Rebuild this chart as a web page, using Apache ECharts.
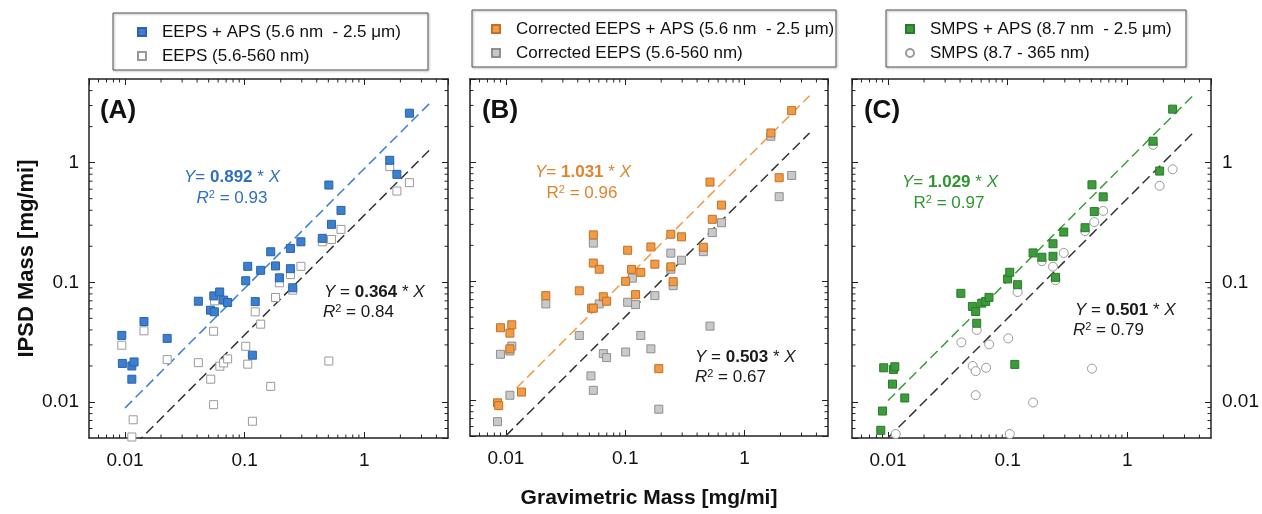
<!DOCTYPE html>
<html><head><meta charset="utf-8">
<script src="https://cdn.jsdelivr.net/npm/echarts@6/dist/echarts.min.js"></script>
<style>html,body{margin:0;padding:0;background:#fff}#c{width:1262px;height:514px}</style>
</head><body><div id="c"></div>
<script>
// ---------- DATA ----------
// Panel A
const eepsAps = [[0.0094,0.036],[0.0095,0.021],[0.0114,0.020],[0.0119,0.0216],[0.0114,0.0155],[0.0144,0.047],[0.0225,0.034],[0.041,0.0695],[0.0518,0.0585],[0.0552,0.077],[0.0558,0.0567],[0.0618,0.083],[0.0667,0.071],[0.072,0.0678],[0.102,0.103],[0.106,0.136],[0.1225,0.069],[0.116,0.0246],[0.136,0.126],[0.165,0.18],[0.181,0.137],[0.195,0.109],[0.241,0.192],[0.241,0.13],[0.252,0.09],[0.295,0.218],[0.445,0.233],[0.505,0.65],[0.531,0.305],[0.638,0.399],[1.63,1.046],[1.87,0.798],[2.38,2.59]];
const eeps = [[0.0094,0.0298],[0.0144,0.0393],[0.0117,0.0071],[0.0114,0.0051],[0.0225,0.0226],[0.041,0.0213],[0.052,0.0155],[0.055,0.0095],[0.055,0.039],[0.056,0.070],[0.062,0.0199],[0.0667,0.0212],[0.072,0.0229],[0.102,0.0292],[0.106,0.0207],[0.1225,0.0566],[0.116,0.0069],[0.136,0.0447],[0.165,0.0135],[0.181,0.0747],[0.195,0.099],[0.241,0.116],[0.252,0.086],[0.295,0.136],[0.445,0.218],[0.505,0.022],[0.531,0.228],[0.638,0.277],[1.63,0.926],[1.87,0.579],[2.38,0.68]];
// Panel B
const corrEepsAps = [[0.0085,0.0095],[0.0087,0.0090],[0.0090,0.0406],[0.0108,0.0366],[0.0112,0.043],[0.0108,0.027],[0.0135,0.0117],[0.0216,0.0756],[0.0412,0.083],[0.054,0.245],[0.054,0.142],[0.0605,0.126],[0.0523,0.0593],[0.054,0.0593],[0.0655,0.074],[0.0698,0.0678],[0.1007,0.0997],[0.1047,0.182],[0.113,0.1256],[0.122,0.077],[0.135,0.1186],[0.164,0.194],[0.177,0.139],[0.191,0.0184],[0.241,0.248],[0.241,0.132],[0.252,0.099],[0.296,0.236],[0.451,0.193],[0.513,0.68],[0.536,0.331],[0.641,0.436],[1.66,1.76],[1.95,0.74],[2.48,2.71]];
const corrEeps = [[0.0085,0.0066],[0.009,0.0243],[0.0108,0.011],[0.0108,0.0259],[0.0112,0.0285],[0.0216,0.0644],[0.0412,0.035],[0.0516,0.016],[0.054,0.0121],[0.054,0.209],[0.0605,0.0644],[0.0655,0.0246],[0.0698,0.0228],[0.1007,0.0254],[0.1047,0.0665],[0.1146,0.106],[0.122,0.0636],[0.135,0.035],[0.164,0.027],[0.177,0.0756],[0.191,0.0084],[0.241,0.172],[0.241,0.126],[0.252,0.0917],[0.296,0.150],[0.451,0.177],[0.513,0.0419],[0.536,0.256],[0.641,0.31],[1.66,1.65],[1.95,0.513],[2.48,0.773]];
// Panel C
const smpsAps = [[0.0087,0.0058],[0.0090,0.0084],[0.0092,0.0193],[0.0111,0.0187],[0.0114,0.0197],[0.0109,0.0141],[0.0138,0.0108],[0.0406,0.0809],[0.0507,0.0629],[0.054,0.057],[0.0551,0.0455],[0.0607,0.067],[0.0655,0.0692],[0.0698,0.0748],[0.0998,0.1067],[0.104,0.1213],[0.121,0.0955],[0.1146,0.0206],[0.163,0.176],[0.193,0.162],[0.239,0.21],[0.239,0.165],[0.251,0.110],[0.294,0.263],[0.443,0.286],[0.506,0.653],[0.529,0.39],[0.628,0.518],[1.64,1.51],[1.86,0.85],[2.39,2.8]];
const smps = [[0.0116,0.0054],[0.041,0.0315],[0.0551,0.040],[0.051,0.020],[0.054,0.0181],[0.054,0.0114],[0.066,0.0193],[0.070,0.0303],[0.101,0.034],[0.104,0.0054],[0.121,0.083],[0.163,0.0099],[0.193,0.15],[0.239,0.135],[0.251,0.104],[0.294,0.176],[0.443,0.268],[0.506,0.019],[0.529,0.319],[0.628,0.395],[1.64,1.41],[1.86,0.64],[2.39,0.88]];
// Fit lines (end points)
const fitA1 = [[0.01,0.00892],[3.5,3.12]];
const fitA2 = [[0.01,0.00364],[3.5,1.274]];
const fitB1 = [[0.01,0.01031],[3.5,3.61]];
const fitB2 = [[0.01,0.00503],[3.5,1.76]];
const fitC1 = [[0.01,0.01029],[3.5,3.60]];
const fitC2 = [[0.01,0.00501],[3.5,1.754]];
const slopes = ['0.892','0.364','1.031','0.503','1.029','0.501'];
const r2s = ['0.93','0.84','0.96','0.67','0.97','0.79'];
const panelTags = ['(A)','(B)','(C)'];
const seriesNames = ['EEPS + APS (5.6 nm  - 2.5 \u03bcm)','EEPS (5.6-560 nm)','Corrected EEPS + APS (5.6 nm  - 2.5 \u03bcm)','Corrected EEPS (5.6-560 nm)','SMPS + APS (8.7 nm  - 2.5 \u03bcm)','SMPS (8.7 - 365 nm)'];
const minorTicks = [0.006,0.007,0.008,0.009,0.02,0.03,0.04,0.05,0.06,0.07,0.08,0.09,0.2,0.3,0.4,0.5,0.6,0.7,0.8,0.9,2,3,4];
const axisMin = 0.005, axisMax = 5;

// ---------- STYLE ----------
const FF = 'Liberation Sans, Arial, sans-serif';
const BLUE = '#3a7fd0', ORANGE = '#f39a45', GREEN = '#3c9c3c';
const grids = [
  {left:89, top:79, width:359, height:359},
  {left:470, top:79, width:358, height:359},
  {left:852, top:79, width:360, height:359}
];
const fmt = v => String(parseFloat(Number(v).toPrecision(6)));
function axis(kind, g, pos, showLabel, extra) {
  return Object.assign({
    type:'log', logBase:10, gridIndex:g, position:pos, min:axisMin, max:axisMax,
    axisLine:{show:true, onZero:false, lineStyle:{color:'#222', width:1.5}},
    axisTick:{show:true, inside:true, length:6, lineStyle:{color:'#222', width:1}},
    splitLine:{show:false},
    axisLabel:{show:showLabel, margin: kind==='x'?13:10, fontSize:19, color:'#111', fontFamily:FF,
      showMinLabel:false, showMaxLabel:false, formatter:fmt}
  }, extra||{});
}
const xAxes = [], yAxes = [];
for (let g=0; g<3; g++) {
  xAxes.push(axis('x', g, 'bottom', true, g===1 ? {name:'Gravimetric Mass [mg/mi]', nameLocation:'middle', nameGap:52,
    nameTextStyle:{fontSize:21, fontWeight:'bold', fontFamily:FF, color:'#111'}} : {}));
  xAxes.push(axis('x', g, 'top', false));
  yAxes.push(axis('y', g, 'left', g===0, g===0 ? {name:'IPSD Mass [mg/mi]', nameLocation:'middle', nameGap:47,
    nameTextStyle:{fontSize:22, fontWeight:'bold', fontFamily:FF, color:'#111'}} : {}));
  yAxes.push(axis('y', g, 'right', g===2, {axisLabel:{show:g===2, margin:11, fontSize:19, color:'#111', fontFamily:FF, showMinLabel:false, showMaxLabel:false, formatter:fmt}}));
}

function scat(name, g, data, symbol, fill, border, size, z) {
  return {type:'scatter', name, xAxisIndex:2*g, yAxisIndex:2*g, data, symbol, symbolSize:size, z,
    itemStyle:{color:fill, borderColor:border, borderWidth:1, opacity:1}, emphasis:{disabled:true}};
}
function fit(g, data, color) {
  return {type:'line', xAxisIndex:2*g, yAxisIndex:2*g, data, showSymbol:false, symbol:'none', z:3, clip:true,
    lineStyle:{color, width:1.5, type:[10,5]}, silent:true};
}
function ticks(g) {
  return {type:'custom', xAxisIndex:2*g, yAxisIndex:2*g, silent:true, z:6, clip:false,
    data: minorTicks.map(v=>[v,v]),
    renderItem(params, api) {
      const p = api.coord([api.value(0), api.value(1)]);
      const cs = params.coordSys, L = 3.5, b = cs.y + cs.height, r = cs.x + cs.width;
      const st = {stroke:'#222', lineWidth:1};
      return {type:'group', children:[
        {type:'line', shape:{x1:p[0], y1:b, x2:p[0], y2:b-L}, style:st},
        {type:'line', shape:{x1:p[0], y1:cs.y, x2:p[0], y2:cs.y+L}, style:st},
        {type:'line', shape:{x1:cs.x, y1:p[1], x2:cs.x+L, y2:p[1]}, style:st},
        {type:'line', shape:{x1:r, y1:p[1], x2:r-L, y2:p[1]}, style:st}
      ]};
    }};
}

const series = [
  scat(seriesNames[1], 0, eeps, 'rect', '#ffffff', '#9a9a9a', 8, 4),
  scat(seriesNames[0], 0, eepsAps, 'rect', BLUE, '#2b62a8', 8, 5),
  fit(0, fitA1, BLUE), fit(0, fitA2, '#333'), ticks(0),
  scat(seriesNames[3], 1, corrEeps, 'rect', '#c9c9c9', '#8f8f8f', 8, 4),
  scat(seriesNames[2], 1, corrEepsAps, 'rect', ORANGE, '#c07028', 8, 5),
  fit(1, fitB1, ORANGE), fit(1, fitB2, '#333'), ticks(1),
  scat(seriesNames[5], 2, smps, 'circle', '#ffffff', '#9a9a9a', 9, 4),
  scat(seriesNames[4], 2, smpsAps, 'rect', GREEN, '#2a7a2a', 8, 5),
  fit(2, fitC1, GREEN), fit(2, fitC2, '#333'), ticks(2)
];

function legend(left, top, padL, names) {
  return {orient:'vertical', left, top, padding:[11,5,5,padL], itemGap:6, itemWidth:8, itemHeight:8,
    selectedMode:false, data:names,
    textStyle:{fontSize:17, fontFamily:FF, color:'#111', lineHeight:18, padding:[0,0,0,11]}};
}
const legends = [
  legend(113, 12, 24, [seriesNames[0], seriesNames[1]]),
  legend(472, 9, 19, [seriesNames[2], seriesNames[3]]),
  legend(886, 9, 19, [seriesNames[4], seriesNames[5]])
];

const rich = {
  i:{fontStyle:'italic', fontSize:17, fontFamily:FF},
  b:{fontWeight:'bold', fontSize:17, fontFamily:FF},
  n:{fontSize:17, fontFamily:FF},
  s:{fontSize:11, fontFamily:FF, verticalAlign:'top'}
};
function txt(x, y, text, color, align) {
  return {type:'text', x, y, z:50, silent:true, style:{text, rich, fill:color, fontSize:17, fontFamily:FF, align, verticalAlign:'middle'}};
}
const boxStyle = {fill:'none', stroke:'#555', lineWidth:1, shadowBlur:2, shadowOffsetX:1, shadowOffsetY:1, shadowColor:'rgba(0,0,0,0.35)'};
const graphics = [
  {type:'rect', shape:{x:113, y:13, width:315, height:57}, style:boxStyle},
  {type:'rect', shape:{x:472, y:10, width:364, height:57}, style:boxStyle},
  {type:'rect', shape:{x:886, y:10, width:300, height:57}, style:boxStyle},
  {type:'text', x:118, y:111, style:{text:panelTags[0], fontSize:26, fontWeight:'bold', fontFamily:FF, fill:'#111', align:'center', verticalAlign:'middle'}},
  {type:'text', x:500, y:111, style:{text:panelTags[1], fontSize:26, fontWeight:'bold', fontFamily:FF, fill:'#111', align:'center', verticalAlign:'middle'}},
  {type:'text', x:882, y:111, style:{text:panelTags[2], fontSize:26, fontWeight:'bold', fontFamily:FF, fill:'#111', align:'center', verticalAlign:'middle'}},
  txt(232, 177, '{i|Y}{n|= }{b|'+slopes[0]+'}{n| * }{i|X}', '#2f6fc0', 'center'),
  txt(232, 198, '{i|R}{s|2}{n| = '+r2s[0]+'}', '#2f6fc0', 'center'),
  txt(324, 292, '{i|Y}{n| = }{b|'+slopes[1]+'}{n| * }{i|X}', '#1a1a1a', 'left'),
  txt(323, 312, '{i|R}{s|2}{n| = '+r2s[1]+'}', '#1a1a1a', 'left'),
  txt(583, 172, '{i|Y}{n|= }{b|'+slopes[2]+'}{n| * }{i|X}', '#e0842e', 'center'),
  txt(582, 193, '{n|R}{s|2}{n| = '+r2s[2]+'}', '#e0842e', 'center'),
  txt(695, 357, '{i|Y}{n| = }{b|'+slopes[3]+'}{n| * }{i|X}', '#1a1a1a', 'left'),
  txt(695, 377, '{i|R}{s|2}{n| = '+r2s[3]+'}', '#1a1a1a', 'left'),
  txt(950, 182, '{i|Y}{n|= }{b|'+slopes[4]+'}{n| * }{i|X}', '#2e962e', 'center'),
  txt(949, 203, '{n|R}{s|2}{n| = '+r2s[4]+'}', '#2e962e', 'center'),
  txt(1075, 310, '{i|Y}{n| = }{b|'+slopes[5]+'}{n| * }{i|X}', '#1a1a1a', 'left'),
  txt(1073, 330, '{i|R}{s|2}{n| = '+r2s[5]+'}', '#1a1a1a', 'left')
];

const chart = echarts.init(document.getElementById('c'), null, {renderer:'canvas'});
chart.setOption({
  animation:false, backgroundColor:'#fff',
  grid: grids, xAxis: xAxes, yAxis: yAxes, series, legend: legends, graphic: graphics
});
</script></body></html>
